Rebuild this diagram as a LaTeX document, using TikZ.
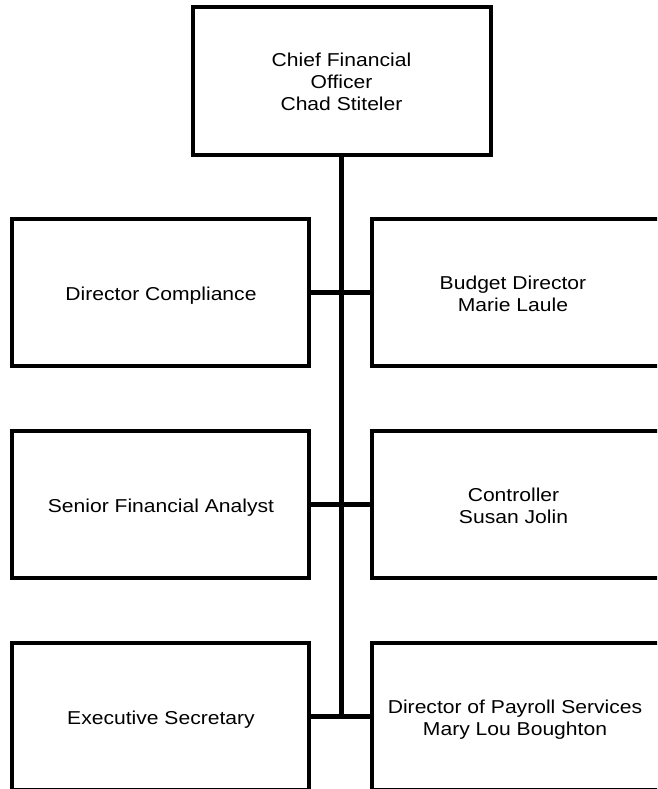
\documentclass[tikz,border=0pt]{standalone}
\usepackage{fontspec}
\setmainfont{Liberation Sans}
\usepackage{graphicx}
\newcommand{\wtext}[1]{\scalebox{1.13}[1]{\begin{tabular}{@{}c@{}}#1\end{tabular}}}
\tikzset{
  box/.style={draw=black, line width=3pt, fill=white, outer sep=0pt, inner sep=0pt,
    minimum width=222.4pt, minimum height=110.6pt},
  topbox/.style={box, minimum width=223.5pt, minimum height=111pt},
  lbl/.style={inner sep=0pt, font=\fontsize{14}{16.5}\selectfont},
  conn/.style={draw=black, line width=3.75pt}
}
\begin{document}
\begin{tikzpicture}[x=0.75pt, y=-0.75pt]
\useasboundingbox (0,0) rectangle (657,789);
\clip (0,0) rectangle (657,789);
\fill[white] (0,0) rectangle (657,789);
\coordinate (bend) at (341,716.25);
\node[topbox] (top) at (341.5,80.5) {};
\node[box] (l1) at (160.75,292.25) {};
\node[box] (l2) at (160.75,504.25) {};
\node[box] (l3) at (160.75,716.25) {};
\node[box] (r1) at (520.75,292.25) {};
\node[box] (r2) at (520.75,504.25) {};
\node[box] (r3) at (520.75,716.25) {};
\draw[conn] (top.south -| bend) -- (bend);
\draw[conn] (l1.east) -- (r1.west);
\draw[conn] (l2.east) -- (r2.west);
\draw[conn] (l3.east) -- (r3.west);
\node[lbl] (ttop) at (341.5,84.5) {\wtext{Chief Financial\\Officer\\Chad Stiteler}};
\node[lbl] (tl1) at (161,296.5) {\wtext{Director Compliance}};
\node[lbl] (tl2) at (161,508.5) {\wtext{Senior Financial Analyst}};
\node[lbl] (tl3) at (161,720) {\wtext{Executive Secretary}};
\node[lbl] (tr1) at (513,296.5) {\wtext{Budget Director\\Marie Laule}};
\node[lbl] (tr2) at (513.5,508.5) {\wtext{Controller\\Susan Jolin}};
\node[lbl] (tr3) at (515,720) {\wtext{Director of Payroll Services\\Mary Lou Boughton}};
\end{tikzpicture}
\end{document}
